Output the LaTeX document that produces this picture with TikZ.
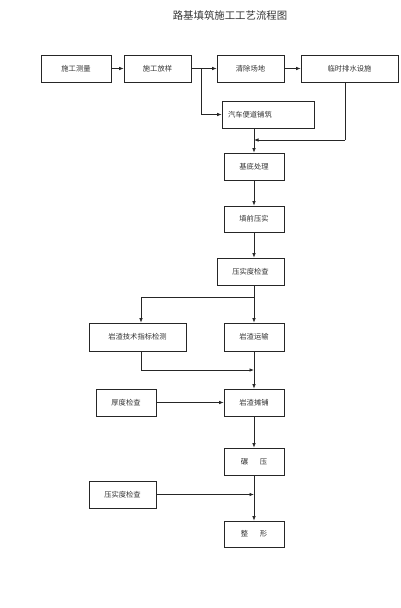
\documentclass[tikz,border=0pt]{standalone}
\usepackage{fontspec}
\setmainfont{Noto Sans CJK SC}
\usetikzlibrary{arrows.meta}
\begin{document}
\begin{tikzpicture}[x=1pt,y=-1pt,
  box/.style={draw=black!85,line width=0.7pt,inner sep=0pt,font=\fontsize{7.3}{8}\selectfont,text=black!80},
  conn/.style={draw=black!85,line width=0.7pt},
  arr/.style={conn,-{Latex[length=4.5pt,width=3.5pt]}}]
\useasboundingbox (0,0) rectangle (400,608);
\node[font=\fontsize{10.4}{12}\selectfont,text=black!80] (title) at (230,16) {路基填筑施工工艺流程图};
% row 1
\node[box,minimum width=70pt,minimum height=27pt] (celiang) at (76,68.5) {施工测量};
\node[box,minimum width=67pt,minimum height=27pt] (fangyang) at (157.5,68.5) {施工放样};
\node[box,minimum width=67pt,minimum height=27pt] (qingchu) at (250.5,68.5) {清除场地};
\node[box,minimum width=97pt,minimum height=27pt] (paishui) at (349.5,68.5) {临时排水设施};
\node[box,minimum width=92pt,minimum height=27pt,text width=80pt,align=left] (biandao) at (268,114.5) {汽车便道铺筑};
% main column
\node[box,minimum width=60pt,minimum height=27pt] (jidi) at (254,166.5) {基底处理};
\node[box,minimum width=60pt,minimum height=26pt] (tianqian) at (254,219) {填前压实};
\node[box,minimum width=67pt,minimum height=27pt] (yashi1) at (250.5,271.5) {压实度检查};
\node[box,minimum width=97pt,minimum height=28pt] (jishu) at (137.5,337) {岩渣技术指标检测};
\node[box,minimum width=60pt,minimum height=28pt] (yunshu) at (254,337) {岩渣运输};
\node[box,minimum width=60pt,minimum height=27pt] (houdu) at (126,402.5) {厚度检查};
\node[box,minimum width=60pt,minimum height=27pt] (tanpu) at (254,402.5) {岩渣摊铺};
\node[box,minimum width=60pt,minimum height=27pt] (hengya) at (254,461.5) {碾\hspace{1.6em}压};
\node[box,minimum width=67pt,minimum height=27pt] (yashi2) at (122.5,494.5) {压实度检查};
\node[box,minimum width=60pt,minimum height=26pt] (zhengxing) at (254,534) {整\hspace{1.6em}形};
% coordinates
\coordinate (b1) at (201,68.5);
\coordinate (p1) at (345,82);
\coordinate (p2) at (345,140);
\coordinate (j1) at (254,140);
\coordinate (j2) at (254,297);
\coordinate (k1) at (141,297);
\coordinate (k2) at (141,351);
\coordinate (k3) at (141,370);
\coordinate (j3) at (254,370);
\coordinate (j4) at (254,494.5);
% connectors
\draw[arr] (celiang) -- (fangyang);
\draw[arr] (fangyang) -- (qingchu);
\draw[arr] (qingchu) -- (paishui);
\draw[arr] (b1) |- (biandao.west);
\draw[conn] (p1) -- (p2);
\draw[arr] (p2) -- (j1);
\draw[arr] (biandao.south -| jidi.north) -- (jidi.north);
\draw[arr] (jidi) -- (tianqian);
\draw[arr] (tianqian.south) -- (tianqian.south |- yashi1.north);
\draw[arr] (yashi1.south -| yunshu.north) -- (yunshu.north);
\draw[arr] (j2) -- (k1) -- (k1 |- jishu.north);
\draw[conn] (k2) -- (k3);
\draw[arr] (k3) -- (j3);
\draw[arr] (yunshu) -- (tanpu);
\draw[arr] (houdu) -- (tanpu);
\draw[arr] (tanpu) -- (hengya);
\draw[arr] (hengya) -- (zhengxing);
\draw[arr] (yashi2) -- (j4);
\end{tikzpicture}
\end{document}
